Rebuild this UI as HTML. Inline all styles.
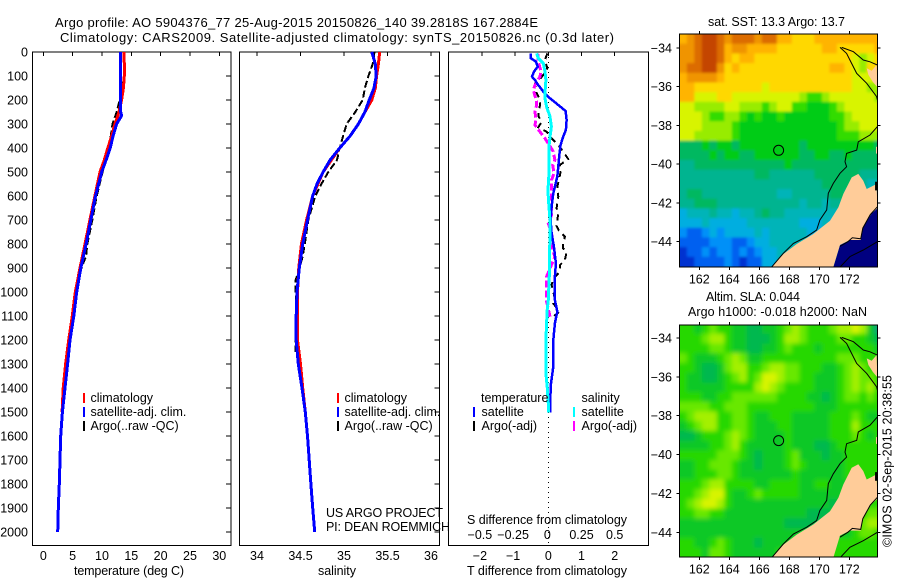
<!DOCTYPE html>
<html>
<head>
<meta charset="utf-8">
<title>Argo profile</title>
<style>
html,body{margin:0;padding:0;background:#fff;}
svg{display:block;}
text{font-family:"Liberation Sans",sans-serif;font-size:12.5px;fill:#000;}
.crisp{shape-rendering:crispEdges;}
</style>
</head>
<body>
<svg id="fig" xmlns="http://www.w3.org/2000/svg" width="900" height="580" viewBox="0 0 900 580">
  <defs>
    <clipPath id="clip-map1"><rect x="679.5" y="34.5" width="198" height="233"/></clipPath>
    <clipPath id="clip-map2"><rect x="679.5" y="325.5" width="198" height="232"/></clipPath>
    <filter id="soft-sst" x="-5%" y="-5%" width="110%" height="110%"><feGaussianBlur stdDeviation="1.3"/></filter>
    <filter id="soft-sla" x="-5%" y="-5%" width="110%" height="110%"><feGaussianBlur stdDeviation="2.4"/></filter>
  </defs>
  <g id="plots"></g>
  <text x="55" y="27" textLength="483" lengthAdjust="spacing" style="font-size:13px">Argo profile: AO 5904376_77 25-Aug-2015 20150826_140 39.2818S 167.2884E</text>
  <text x="60" y="42" textLength="554" lengthAdjust="spacing" style="font-size:13px">Climatology: CARS2009. Satellite-adjusted climatology: synTS_20150826.nc (0.3d later)</text>

  <text x="74" y="575" textLength="110" lengthAdjust="spacing">temperature (deg C)</text>
  <text x="318" y="575" textLength="38" lengthAdjust="spacing">salinity</text>
  <text x="467" y="575" textLength="160" lengthAdjust="spacing">T difference from climatology</text>
  <text x="467" y="524" textLength="160" lengthAdjust="spacing">S difference from climatology</text>

  <g>
    <rect class="crisp" x="83" y="393" width="2" height="10" fill="#ff0000"/>
    <rect class="crisp" x="83" y="407" width="2" height="10" fill="#0000ff"/>
    <rect class="crisp" x="83" y="421" width="2" height="10" fill="#000000"/>
    <text x="90.5" y="402">climatology</text>
    <text x="90.5" y="416">satellite-adj. clim.</text>
    <text x="90.5" y="430">Argo(..raw -QC)</text>
  </g>
  <g>
    <rect class="crisp" x="337" y="393" width="2" height="10" fill="#ff0000"/>
    <rect class="crisp" x="337" y="407" width="2" height="10" fill="#0000ff"/>
    <rect class="crisp" x="337" y="421" width="2" height="10" fill="#000000"/>
    <text x="344.5" y="402">climatology</text>
    <text x="344.5" y="416">satellite-adj. clim.</text>
    <text x="344.5" y="430">Argo(..raw -QC)</text>
  </g>
  <text x="326" y="517" textLength="117" lengthAdjust="spacing">US ARGO PROJECT</text>
  <text x="326" y="531" textLength="124" lengthAdjust="spacing">PI: DEAN ROEMMICH</text>
  <g>
    <text x="481" y="402">temperature</text>
    <text x="581.5" y="402">salinity</text>
    <rect class="crisp" x="473" y="407" width="2" height="10" fill="#0000ff"/>
    <rect class="crisp" x="473" y="421" width="2" height="10" fill="#000000"/>
    <rect class="crisp" x="573" y="407" width="2" height="10" fill="#00ffff"/>
    <rect class="crisp" x="573" y="421" width="2" height="10" fill="#ff00ff"/>
    <text x="481.5" y="416">satellite</text>
    <text x="481.5" y="430">Argo(-adj)</text>
    <text x="581.5" y="416">satellite</text>
    <text x="581.5" y="430">Argo(-adj)</text>
  </g>

  <text x="708" y="26" textLength="137" lengthAdjust="spacing">sat. SST: 13.3 Argo: 13.7</text>
  <text x="706" y="301" textLength="94" lengthAdjust="spacing">Altim. SLA: 0.044</text>
  <text x="688" y="316" textLength="179" lengthAdjust="spacing">Argo h1000: -0.018 h2000: NaN</text>
  <text transform="translate(891.5,547) rotate(-90)" textLength="172" lengthAdjust="spacing">©IMOS 02-Sep-2015 20:38:55</text>
</svg>

<script>
// ---------- Profile data (depth in dbar) ----------
const tempClimDepth = [0,50,100,150,200,250,300,350,400,450,500,600,700,800,900,1000,1100,1200,1300,1400,1500];
const tempClimValue = [13.75,13.8,13.8,13.65,13.35,12.9,12.2,11.65,11,10.4,9.66,8.8,7.95,7.1,6.26,5.46,4.95,4.33,3.8,3.4,3.2];
const tempSatDepth = [0,250,265,300,350,400,450,500,600,700,800,900,1000,1100,1200,1300,1400,1500,1600,1700,1800,1900,2000];
const tempSatValue = [13.2,13.2,13.35,12.5,11.9,11.4,10.7,9.95,8.9,8.1,7.3,6.4,5.7,5.2,4.55,4.15,3.7,3.25,2.96,2.85,2.73,2.56,2.45];
const tempArgoDepth = [0,100,150,200,250,300,350,400,450,500,600,700,800,850,900,1000,1100,1200];
const tempArgoValue = [13.8,13.8,13.3,13,12.5,11.8,11.5,11.1,10.7,10.1,9.1,8.35,7.5,7.3,6.5,5.7,5,4.5];

const salClimDepth = [0,50,100,150,200,250,300,350,400,500,600,700,800,900,1000,1100,1200,1300,1400,1500];
const salClimValue = [35.41,35.395,35.375,35.36,35.32,35.24,35.165,35.07,34.95,34.76,34.64,34.57,34.51,34.48,34.465,34.465,34.465,34.5,34.525,34.555];
const salSatDepth = [0,50,100,150,200,250,300,350,400,450,500,550,600,700,800,900,1000,1100,1200,1300,1400,1500,1600,1700,1800,1900,2000];
const salSatValue = [35.32,35.36,35.37,35.345,35.29,35.24,35.165,35.07,34.95,34.84,34.76,34.69,34.64,34.58,34.525,34.486,34.46,34.45,34.45,34.475,34.517,34.555,34.58,34.6,34.62,34.64,34.663];
const salArgoDepth = [0,50,100,150,200,250,300,350,400,450,500,550,600,700,800,850,900,950,1000,1100,1200,1250];
const salArgoValue = [35.35,35.33,35.28,35.24,35.215,35.13,35.03,34.99,34.95,34.92,34.82,34.74,34.67,34.59,34.55,34.525,34.49,34.445,34.445,34.465,34.44,34.44];

const diffTSatDepth = [6,26,40,61,82,103,117,138,165,193,221,246,283,325,353,387,429,478,519,561,589,644,700,756,811,881,936,1033,1082,1130,1200,1311,1381,1464,1503];
const diffTSatValue = [-0.53,-0.53,-0.37,-0.32,-0.43,-0.49,-0.40,-0.30,-0.15,0.05,0.30,0.52,0.55,0.53,0.45,0.37,0.33,0.30,0.27,0.20,0.15,0.10,0.07,0.10,0.17,0.23,0.20,0.20,0.27,0.20,0.15,0.15,0.08,0.05,0.05];
const diffTArgoDepth = [6,33,68,82,117,131,172,193,221,242,267,290,314,332,360,388,415,446,471,492,526,561,603,651,672,700,724,744,769,797,818,832,867,888,901,922,943,971,999,1033,1047,1082,1103,1117];
const diffTArgoValue = [-0.03,-0.10,-0.03,-0.08,-0.27,-0.40,-0.35,-0.27,-0.25,-0.28,-0.30,-0.20,-0.30,-0.05,0.10,0.30,0.45,0.60,0.35,0.38,0.33,0.27,0.30,0.25,0.30,0.27,0.25,0.32,0.50,0.45,0.45,0.55,0.50,0.35,0.35,0.30,0.15,0.10,0.15,0.20,0.15,0.33,0.15,0.10];
const diffSSatDepth = [6,26,47,82,117,158,193,228,269,311,353,394,464,533,575,631,700,769,853,922,1033,1075,1130,1200,1339,1395,1464,1503];
const diffSSatValue = [-0.088,-0.075,-0.038,-0.025,-0.018,-0.023,-0.025,-0.013,0.013,0.023,0.013,0.005,0.005,0.003,-0.003,0.003,0.013,0.013,0.008,0.008,0,-0.008,-0.013,-0.018,-0.018,-0.008,0,0];
const diffSArgoDepth = [6,40,82,103,138,158,207,221,249,283,304,332,360,381,415,450,471,506,533,561,596,631,679,714,756,776,825,853,936,957,1000,1040,1103];
const diffSArgoValue = [-0.08,-0.075,-0.055,-0.063,-0.10,-0.113,-0.088,-0.088,-0.10,-0.093,-0.10,-0.063,-0.025,0,0.038,0.05,0.033,0.043,0.025,0.025,0.025,0.025,0.025,0,0.025,0.03,0.033,0.05,-0.013,-0.013,-0.013,-0.013,0.013];

// ---------- Tick labels ----------
const depthTicks = [0,100,200,300,400,500,600,700,800,900,1000,1100,1200,1300,1400,1500,1600,1700,1800,1900,2000];
const tempTicks = [0,5,10,15,20,25,30];
const salTicks = [34,34.5,35,35.5,36];
const diffTTicks = [-2,-1,0,1,2];
const diffSTicks = [-0.5,-0.25,0,0.25,0.5];
const lonTicks = [162,164,166,168,170,172];
const latTicks = [-34,-36,-38,-40,-42,-44];

// ---------- Map data: rows north→south, 0.5° cells ----------
const sstLevels = [
[12,13,14,15,15,14,13,14,14,14,13,14,14,12,12,11,11,11,12,12,12,12,12,12,12,12,12],
[13,13,14,15,15,14,12,13,13,12,12,12,12,11,11,11,11,11,11,12,12,11,11,11,11,11,12],
[13,13,14,15,15,14,12,11,12,12,11,11,11,11,11,11,11,11,11,11,11,11,11,10,9,10,11],
[13,14,14,15,15,13,11,12,11,11,11,11,11,11,11,11,11,11,11,11,12,12,11,10,9,11,11],
[12,13,13,13,13,12,11,11,11,11,11,11,11,11,11,11,11,11,11,11,11,11,11,10,10,10,11],
[12,12,11,11,11,11,11,11,11,11,11,10,11,11,11,11,11,11,11,11,11,11,11,10,10,9,9],
[12,12,10,10,10,11,11,10,10,10,10,10,10,10,10,10,9,8,8,9,10,10,10,10,10,10,9],
[10,10,9,9,9,9,10,10,9,9,9,8,9,10,10,8,8,7,7,7,8,9,10,10,10,10,10],
[10,10,10,9,8,8,9,9,8,7,8,7,7,8,7,7,7,7,7,7,8,8,9,10,10,10,10],
[10,10,10,9,9,9,9,8,7,7,7,7,7,7,7,7,7,7,7,7,7,8,9,9,10,10,10],
[10,10,9,9,9,9,9,8,7,7,7,7,7,7,7,7,7,7,7,7,7,8,8,8,9,9,9],
[6,6,6,7,6,7,7,6,7,7,7,7,7,7,7,7,6,7,7,7,7,7,7,7,7,7,6],
[6,6,6,6,7,6,7,7,6,6,7,7,7,7,7,7,6,6,7,7,6,6,7,6,6,6,6],
[5,5,6,6,6,6,6,6,6,6,6,6,6,6,7,6,6,6,6,6,6,6,6,6,6,6,6],
[5,5,5,5,5,5,5,5,5,5,6,6,5,5,5,5,5,5,6,6,6,6,6,6,5,5,5],
[5,5,5,5,5,5,5,5,5,5,5,5,5,5,5,5,5,5,5,6,6,6,6,6,5,4,4],
[5,6,6,5,5,5,5,5,5,5,5,5,5,4,4,5,5,5,5,5,6,6,5,5,4,3,3],
[5,5,6,6,6,5,5,5,5,5,5,5,5,5,5,5,4,5,5,4,5,5,4,3,3,3,3],
[3,4,4,4,5,4,4,3,4,4,5,6,5,5,4,4,4,4,4,4,4,4,3,3,3,3,3],
[3,3,3,4,3,3,3,3,3,4,4,4,4,4,4,4,3,3,3,4,3,3,3,3,3,3,3],
[2,1,1,2,3,2,3,3,3,3,4,3,4,4,4,4,4,3,3,3,3,3,3,3,3,3,3],
[1,1,1,1,2,2,2,1,1,2,3,3,4,4,4,4,4,4,4,4,4,4,4,4,4,4,4],
[0,1,1,2,1,2,2,1,2,1,2,3,3,4,4,5,5,5,5,5,5,5,5,5,5,5,5],
[0,0,1,1,1,1,2,1,0,1,1,3,3,4,5,5,5,5,5,5,5,5,5,5,5,5,5]
];
const slaLevels = [
[3,3,2,3,4,3,3,2,2,1,1,2,2,3,4,5,4,3,3,3,4,5,5,6,5,2,0],
[3,3,3,4,5,5,3,2,2,1,1,1,2,3,5,5,4,3,3,3,3,4,4,3,3,2,1],
[3,3,3,3,4,4,3,2,2,1,1,2,2,3,4,3,3,3,2,3,3,3,3,3,3,3,2],
[4,3,2,2,2,3,4,5,4,2,2,3,3,3,3,3,3,3,3,3,3,4,4,4,3,3,3],
[3,3,2,1,1,2,4,5,5,3,3,4,5,5,4,4,3,3,3,2,2,3,4,5,4,3,3],
[3,2,2,1,1,2,3,4,5,3,4,6,6,5,4,4,3,3,2,2,2,3,4,5,4,4,3],
[3,2,2,2,2,2,3,3,3,3,5,6,5,4,3,3,3,3,2,2,2,3,4,5,4,5,3],
[3,3,3,2,2,3,3,4,4,4,4,4,4,3,3,3,3,2,2,1,2,3,4,4,3,4,3],
[4,4,4,4,3,3,4,4,4,3,3,3,3,3,3,3,3,3,2,2,2,3,3,3,3,3,3],
[3,4,5,5,5,3,3,4,4,3,2,2,3,3,3,2,2,2,2,2,3,3,3,4,3,2,2],
[2,3,4,5,5,3,3,4,4,3,2,2,2,3,3,2,2,2,2,2,3,3,3,5,3,3,3],
[1,1,2,3,3,3,4,5,4,3,2,2,2,2,3,2,2,2,2,2,3,3,3,4,3,2,3],
[2,2,2,2,3,3,4,5,3,2,2,2,2,2,3,2,2,2,1,1,2,3,3,3,3,3,3],
[3,3,3,3,3,4,4,4,3,2,1,2,2,2,3,4,2,2,2,1,2,2,3,3,3,3,3],
[2,2,3,3,4,4,4,3,2,2,1,2,2,2,3,4,3,2,2,2,2,2,3,3,3,3,3],
[2,2,3,3,3,4,4,3,2,2,2,2,2,2,2,3,2,2,2,2,2,2,3,3,3,3,3],
[3,3,3,4,5,5,3,3,3,3,2,2,3,3,3,3,2,2,3,3,2,2,2,3,3,3,3],
[3,3,4,5,6,6,3,2,2,3,4,3,3,3,3,3,2,2,2,2,2,2,2,3,3,3,3],
[3,4,5,6,6,5,3,2,2,2,2,2,2,2,2,2,2,2,2,2,1,2,2,2,3,3,3],
[3,3,4,4,3,3,2,2,2,2,2,2,2,2,2,2,2,1,1,1,2,2,2,2,3,4,4],
[2,2,2,2,2,2,2,2,2,2,2,2,2,2,1,1,1,1,1,2,2,2,2,3,4,5,5],
[2,2,2,2,2,2,2,2,2,2,2,2,2,2,2,2,2,2,2,2,2,2,2,3,4,4,3],
[3,3,2,2,3,4,3,2,2,2,1,2,2,2,2,2,2,2,2,2,2,3,3,3,3,3,3],
[3,3,3,2,4,4,3,2,2,2,2,2,2,3,3,3,3,3,3,3,3,3,3,3,3,3,3]
];
const sstColors = ['#0030d0','#0060f0','#0090f8','#00aee0','#00b4b8','#00b490','#00b860','#00cc18','#30dc00','#98ec00','#d8f400','#ffd800','#ffb400','#f09400','#dc6c00','#c44400'];
const slaColors = ['#08a078','#00b850','#10c828','#28d800','#68e800','#a4f000','#d8f400'];

// Geographic outlines, [lon, lat]
const southIslandCoast = [[166.82,-45.31],[167.6,-44.64],[168.49,-44.12],[169.6,-43.6],[170.71,-42.92],[171.27,-42.22],[171.6,-41.54],[172.16,-40.68],[172.6,-40.5],[172.93,-40.85],[173.16,-41.28],[173.82,-41.02],[173.87,-42.28],[173.49,-42.54],[172.93,-43.23],[172.76,-43.91],[172.04,-43.91],[171.38,-44.17],[170.93,-45.31]];
const northIslandCoast = [[173.16,-35.05],[173.49,-35.17],[173.82,-34.88],[173.87,-36.03],[173.56,-35.74],[173.27,-35.39]];
const edgeIsland = [[173.78,-39.1],[173.87,-39.1],[173.87,-39.45],[173.78,-39.45]];
const deepRegion = [[170.93,-45.31],[171.38,-44.17],[172.04,-43.91],[172.76,-43.91],[172.93,-43.23],[173.49,-42.54],[173.87,-42.28],[173.87,-45.31]];
const contourA = [[171.38,-33.97],[171.82,-34.28],[172.04,-34.62],[172.49,-35.31],[173.16,-35.82],[173.82,-36.51],[173.87,-36.68]];
const contourB = [[171.49,-33.97],[172.27,-34.19],[172.93,-34.62],[173.38,-34.71],[173.87,-34.88]];
const contourC = [[173.87,-38.06],[173.38,-38.49],[172.6,-38.84],[172.49,-39.27],[171.82,-39.44],[171.71,-39.87],[171.82,-40.13],[171.38,-40.47],[170.93,-40.99],[170.6,-41.5],[170.49,-42.36],[170.04,-42.88],[169.82,-43.4],[169.16,-43.74],[168.27,-44.09],[167.6,-44.6],[166.82,-45.31]];
const contourD = [[173.87,-44.0],[172.93,-44.43],[172.04,-44.77],[171.38,-45.31]];
const contourE = [[171.38,-44.25],[171.9,-44.0],[172.2,-43.8],[172.76,-43.85],[172.9,-43.3],[173.4,-42.6],[173.87,-42.2]];
const contourF = [[173.8,-40.9],[173.8,-41.35]];
const floatLon = 167.2884;
const floatLat = -39.2818;

// ---------- Axis functions ----------
const NS = 'http://www.w3.org/2000/svg';
const layer = document.getElementById('plots');
function yDepth(d){ return 52 + 0.24*d; }
function xTemp(t){ return 43.3 + 5.867*t; }
function xSal(s){ return 257 + 87*(s-34); }
function xDiffT(t){ return 548.3 + 33.2*t; }
function xDiffS(s){ return 548.3 + 132.8*s; }
function xLon(l){ return 699.3 + 15*(l-162); }
function yLat1(l){ return 48 + 19.37*(-34-l); }
function yLat2(l){ return 338 + 19.43*(-34-l); }
function fmt(v){ return String(v).replace('-','\u2212'); }

function node(tag, attrs, parent){
  const el = document.createElementNS(NS, tag);
  for (const k in attrs) el.setAttribute(k, attrs[k]);
  (parent || layer).appendChild(el);
  return el;
}
function label(txt, x, y, anchor, name, parent){
  const el = node('text', {x:x, y:y, 'text-anchor':anchor}, parent);
  el.textContent = txt;
  
  
  return el;
}
function line(x1,y1,x2,y2,name,parent){
  const el = node('line', {x1:x1,y1:y1,x2:x2,y2:y2,stroke:'#000','stroke-width':1,'class':'crisp'}, parent);
  
  
  return el;
}
function profile(depths, values, xf, color, width, dash, name, parent){
  const pts = depths.map((d,i)=> xf(values[i]).toFixed(1)+','+yDepth(d).toFixed(1)).join(' ');
  const el = node('polyline', {points:pts, fill:'none', stroke:color, 'stroke-width':width, 'class':'crisp'}, parent);
  if (dash) el.setAttribute('stroke-dasharray', dash);
  
  
  return el;
}
function panelFrame(left, right, name){
  const g = node('g', {});
  
  
  const r = node('rect', {x:left, y:52, width:right-left, height:493.5, fill:'none', stroke:'#000', 'stroke-width':1, 'class':'crisp'}, g);
  
  
  return g;
}

// ---------- Temperature panel ----------
const pT = panelFrame(32.5, 231, 'temperature-panel');
depthTicks.forEach(d=>{
  label(String(d), 28, yDepth(d)+4.5, 'end', 'depth-tick-label', pT);
  line(226, yDepth(d), 231, yDepth(d), 'depth-tick', pT);
});
tempTicks.forEach(t=>{
  line(xTemp(t), 52, xTemp(t), 56, 'temperature-tick', pT);
  label(fmt(t), xTemp(t), 560, 'middle', 'temperature-tick-label', pT);
});
profile(tempArgoDepth, tempArgoValue, xTemp, '#000', 2, '7,3', 'temperature-argo-line', pT);
profile(tempClimDepth, tempClimValue, xTemp, '#ff0000', 3, null, 'temperature-climatology-line', pT);
profile(tempSatDepth, tempSatValue, xTemp, '#0000ff', 3, null, 'temperature-satellite-line', pT);

// ---------- Salinity panel ----------
const pS = panelFrame(239.5, 439.5, 'salinity-panel');
depthTicks.forEach(d=>{
  line(434.5, yDepth(d), 439.5, yDepth(d), 'depth-tick', pS);
});
salTicks.forEach(s=>{
  line(xSal(s), 52, xSal(s), 56, 'salinity-tick', pS);
  label(fmt(s), xSal(s), 560, 'middle', 'salinity-tick-label', pS);
});
profile(salArgoDepth, salArgoValue, xSal, '#000', 2, '7,3', 'salinity-argo-line', pS);
profile(salClimDepth, salClimValue, xSal, '#ff0000', 3, null, 'salinity-climatology-line', pS);
profile(salSatDepth, salSatValue, xSal, '#0000ff', 3, null, 'salinity-satellite-line', pS);

// ---------- Difference panel ----------
const pD = panelFrame(448.5, 648.5, 'difference-panel');
const zeroLine = line(xDiffT(0), 52, xDiffT(0), 545.5, 'zero-line', pD);
zeroLine.setAttribute('stroke-dasharray', '1,4');
diffTTicks.forEach(t=>{
  line(xDiffT(t), 52, xDiffT(t), 56, 'difference-tick', pD);
  label(fmt(t), xDiffT(t)-(t<0?2:0), 560, 'middle', 'difference-t-tick-label', pD);
});
diffSTicks.forEach(s=>{
  label(fmt(s), xDiffS(s)-(s<0?2:0)+(s===0?-1:0), 539, 'middle', 'difference-s-tick-label', pD);
});
profile(diffTArgoDepth, diffTArgoValue, xDiffT, '#000', 2, '6,5', 'difference-t-argo-line', pD);
profile(diffSArgoDepth, diffSArgoValue, xDiffS, '#ff00ff', 3, '7,3', 'difference-s-argo-line', pD);
profile(diffTSatDepth, diffTSatValue, xDiffT, '#0000ff', 2.5, null, 'difference-t-satellite-line', pD);
profile(diffSSatDepth, diffSSatValue, xDiffS, '#00ffff', 3, null, 'difference-s-satellite-line', pD);

// ---------- Maps ----------
function geoPts(arr, yf){ return arr.map(p=> xLon(p[0]).toFixed(1)+','+yf(p[1]).toFixed(1)).join(' '); }
function drawMap(opts){
  const g = node('g', {});
  
  
  const clip = node('g', {'clip-path':'url(#'+opts.clip+')'}, g);
  const cells = node('g', {filter:'url(#'+opts.soft+')'}, clip);
  
  
  const lon0 = 160.67, lat0 = -33.28, step = 0.5;
  const nRows = opts.levels.length;
  opts.levels.forEach((row,r)=>{
    row.forEach((lv,c)=>{
      let x0 = xLon(lon0 + c*step), x1 = xLon(lon0 + (c+1)*step);
      let y0 = opts.yf(lat0 - r*step), y1 = opts.yf(lat0 - (r+1)*step);
      if (c === 0) x0 -= 10;
      if (c === row.length-1) x1 += 10;
      if (r === 0) y0 -= 10;
      if (r === nRows-1) y1 += 10;
      const cell = node('rect', {x:x0.toFixed(2), y:y0.toFixed(2), width:(x1-x0+0.6).toFixed(2), height:(y1-y0+0.6).toFixed(2), fill:opts.colors[lv]}, cells);
      
      
    });
  });
  if (opts.deep) {
    const deep = node('polygon', {points:geoPts(deepRegion,opts.yf), fill:'#000080'}, clip);
    
    
  }
  const si = node('polygon', {points:geoPts(southIslandCoast,opts.yf), fill:'#ffcc99'}, clip);
  
  
  const ni = node('polygon', {points:geoPts(northIslandCoast,opts.yf), fill:'#ffcc99'}, clip);
  
  
  const isl = node('polygon', {points:geoPts(edgeIsland,opts.yf), fill:'#ffcc99'}, clip);
  
  
  [contourA,contourB,contourC,contourD,contourE].forEach(c=>{
    const pl = node('polyline', {points:geoPts(c,opts.yf), fill:'none', stroke:'#000', 'stroke-width':1}, clip);
    
    
  });
  const bit = node('polyline', {points:geoPts(contourF,opts.yf), fill:'none', stroke:'#000', 'stroke-width':2.5}, clip);
  
  
  const circle = node('circle', {cx:xLon(floatLon), cy:opts.yf(floatLat), r:5, fill:'none', stroke:'#000', 'stroke-width':1}, g);
  
  
  const fr = node('rect', {x:679.5, y:opts.top, width:198, height:opts.bottom-opts.top, fill:'none', stroke:'#000', 'stroke-width':1, 'class':'crisp'}, g);
  
  
  lonTicks.forEach(l=>{
    line(xLon(l), opts.top-3, xLon(l), opts.top, 'map-lon-tick', g);
    line(xLon(l), opts.bottom, xLon(l), opts.bottom+3, 'map-lon-tick', g);
    label(String(l), xLon(l), opts.bottom+16.5, 'middle', 'map-lon-label', g);
  });
  latTicks.forEach(l=>{
    line(676.5, opts.yf(l), 679.5, opts.yf(l), 'map-lat-tick', g);
    line(877.5, opts.yf(l), 880.5, opts.yf(l), 'map-lat-tick', g);
    label(fmt(l), 672, opts.yf(l)+4.5, 'end', 'map-lat-label', g);
  });
}
drawMap({name:'sst-map', clip:'clip-map1', soft:'soft-sst', levels:sstLevels, colors:sstColors, yf:yLat1, top:34, bottom:267, deep:true});
drawMap({name:'sla-map', clip:'clip-map2', soft:'soft-sla', levels:slaLevels, colors:slaColors, yf:yLat2, top:325, bottom:557, deep:false});
</script>
</body>
</html>
